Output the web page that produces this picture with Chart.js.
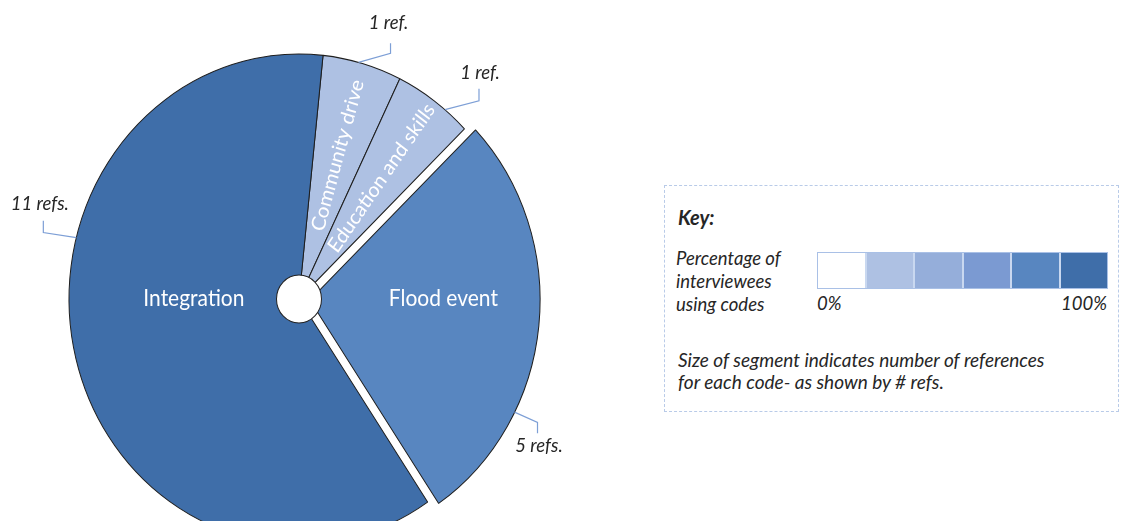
<!DOCTYPE html>
<html>
<head>
<meta charset="utf-8">
<script src="https://cdn.jsdelivr.net/npm/chart.js@4"></script>
<style>
  html, body { margin: 0; padding: 0; background: #fff; }
  body { width: 1121px; height: 521px; overflow: hidden; position: relative; font-family: Lato, "Open Sans", sans-serif; color: #262626; }
  #pie { position: absolute; left: 0; top: 0; }
  .key { position: absolute; left: 664px; top: 185px; width: 455px; height: 227px; border: 1px dashed #b9cbe8; box-sizing: border-box; }
  .key .title { position: absolute; left: 13px; top: 19px; font-size: 20px; font-weight: bold; font-style: italic; }
  .key .pct { position: absolute; left: 11px; top: 61px; font-size: 18.5px; font-style: italic; line-height: 23px; }
  .key .bar { position: absolute; left: 152px; top: 66px; width: 291px; height: 37px; display: flex; gap: 2px; background: #c9d8f0; border: 1px solid #a9c0e6; box-sizing: border-box; }
  .key .bar div { flex: 1; }
  .key .lo, .key .hi { position: absolute; top: 106px; font-size: 18.5px; font-style: italic; }
  .key .lo { left: 152px; }
  .key .hi { right: 11px; }
  .key .note { position: absolute; left: 13px; top: 163px; font-size: 19px; font-style: italic; line-height: 22px; }
</style>
</head>
<body>
<canvas id="pie" width="600" height="600" style="width:600px;height:600px"></canvas>

<div class="key">
  <div class="title">Key:</div>
  <div class="pct">Percentage of<br>interviewees<br>using codes</div>
  <div class="bar" id="bar"></div>
  <div class="lo" id="lo"></div>
  <div class="hi" id="hi"></div>
  <div class="note">Size of segment indicates number of references<br>for each code- as shown by # refs.</div>
</div>

<script>
// codes and how many references each one got
const codes = ['Community drive', 'Education and skills', 'Flood event', 'Integration'];
const refs = [1, 1, 5, 11];
// shade step (0-5) on the key scale for each code
const shadeStep = [1, 1, 4, 5];
// key scale, light to dark
const keyShades = ['#ffffff', '#aec1e3', '#95aeda', '#7b9ad2', '#5886c0', '#3f6ea9'];
const keyEnds = ['0%', '100%'];

const yStretch = 1.065;

// where the white name sits inside each slice (angle in degrees from top, null = middle of slice)
const sliceText = [
  { angle: null, dist: 0.61, radial: true, size: 19.5 },
  { angle: null, dist: 0.61, radial: true, size: 19.5 },
  { angle: 89.6, dist: 0.58, radial: false, size: 21 },
  { angle: 270, dist: 0.457, radial: false, size: 21 }
];
// leader lines for the "# refs." notes
const callouts = [
  { angle: 15, dx: 32, dy: -8.5, tick: -9.5, tx: -2, ty: -19.6 },
  { angle: 39.4, dx: 34, dy: -8.4, tick: -11.3, tx: 1, ty: -15 },
  { angle: 117.2, dx: 23, dy: 9.5, tick: 10.3, tx: 1.5, ty: 11.2 },
  { angle: 284.5, dx: -33, dy: -4.8, tick: -11.2, tx: -3.5, ty: -15.8 }
];

const bar = document.getElementById('bar');
keyShades.forEach(c => {
  const d = document.createElement('div');
  d.style.background = c;
  bar.appendChild(d);
});
document.getElementById('lo').innerText = keyEnds[0];
document.getElementById('hi').innerText = keyEnds[1];

const rad = deg => (deg - 90) * Math.PI / 180;

const pieDecor = {
  id: 'pieDecor',
  beforeDatasetsDraw(chart) {
    const ctx = chart.ctx;
    const { x, y } = chart.getDatasetMeta(0).data[0];
    ctx.save();
    ctx.translate(x, y);
    ctx.scale(1, yStretch);
    ctx.translate(-x, -y);
  },
  afterDatasetsDraw(chart) {
    const ctx = chart.ctx;
    const meta = chart.getDatasetMeta(0);
    const { x, y } = meta.data[0];

    // hub
    ctx.beginPath();
    ctx.arc(x, y, 22.5, 0, Math.PI * 2);
    ctx.fillStyle = '#fff';
    ctx.fill();
    ctx.lineWidth = 1;
    ctx.strokeStyle = '#222';
    ctx.stroke();

    meta.data.forEach((arc, i) => {
      const mid = (arc.startAngle + arc.endAngle) / 2;
      const shift = (arc.options.offset || 0) / 4;
      const ox = arc.x + Math.cos(mid) * shift;
      const oy = arc.y + Math.sin(mid) * shift;

      // name inside the slice
      const st = sliceText[i];
      const a = st.angle == null ? mid : rad(st.angle);
      const r = arc.outerRadius * st.dist;
      ctx.save();
      ctx.translate(ox + Math.cos(a) * r, oy + Math.sin(a) * r);
      if (st.radial) ctx.rotate(a);
      ctx.fillStyle = '#fff';
      ctx.font = st.size + 'px Lato';
      ctx.textAlign = 'center';
      ctx.textBaseline = 'middle';
      ctx.fillText(codes[i], 0, 0);
      ctx.restore();

      // leader line + ref count
      const c = callouts[i];
      const ca = rad(c.angle);
      const ax = ox + Math.cos(ca) * arc.outerRadius;
      const ay = oy + Math.sin(ca) * arc.outerRadius;
      const ex = ax + c.dx, ey = ay + c.dy;
      ctx.beginPath();
      ctx.moveTo(ax, ay);
      ctx.lineTo(ex, ey);
      ctx.lineTo(ex, ey + c.tick);
      ctx.strokeStyle = '#7d9fd6';
      ctx.lineWidth = 1.2;
      ctx.stroke();
      ctx.fillStyle = '#262626';
      ctx.font = 'italic 18.5px Lato';
      ctx.textAlign = 'center';
      ctx.textBaseline = 'middle';
      ctx.fillText(refs[i] + (refs[i] === 1 ? ' ref.' : ' refs.'), ex + c.tx, ey + c.tick + c.ty);
    });

    ctx.restore();
  }
};

new Chart(document.getElementById('pie'), {
  type: 'pie',
  data: {
    labels: codes,
    datasets: [{
      data: refs,
      backgroundColor: shadeStep.map(s => keyShades[s]),
      borderColor: '#1e1e1e',
      borderWidth: 1,
      offset: [0, 0, 44, 0],
      hoverOffset: 0
    }]
  },
  options: {
    responsive: false,
    animation: false,
    rotation: 6,
    radius: 230,
    layout: { padding: { left: 0, top: 0, right: 2, bottom: 2 } },
    plugins: { legend: { display: false }, tooltip: { enabled: false } }
  },
  plugins: [pieDecor]
});
</script>
</body>
</html>
